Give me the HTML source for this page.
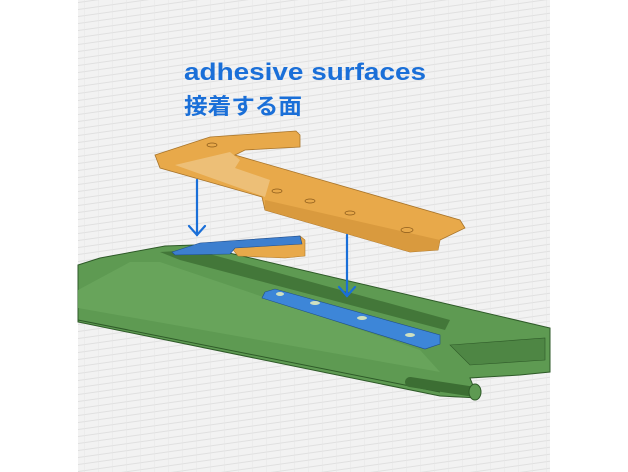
<!DOCTYPE html>
<html><head><meta charset="utf-8"><style>
html,body{margin:0;padding:0;background:#fff;width:628px;height:472px;overflow:hidden}
</style></head><body>
<svg width="628" height="472" viewBox="0 0 628 472" xmlns="http://www.w3.org/2000/svg">
<defs>
<pattern id="g" width="14" height="7" patternUnits="userSpaceOnUse" patternTransform="skewY(-8)">
<rect width="14" height="7" fill="#f2f2f2"/>
<path d="M0 6.5H14" stroke="#dcdcdc" stroke-width="0.8"/>
<path d="M0.5 0V7" stroke="#e6e6e6" stroke-width="0.5"/>
</pattern>
</defs>
<rect x="78" y="0" width="472" height="472" fill="url(#g)"/>
<!-- green plate -->
<polygon points="78,265 100,258 165,246 195,245 550,328 550,372 520,375 470,378 478,398 440,396 78,322" fill="#5e9a52" stroke="#2e5a28" stroke-width="1"/>
<polygon points="78,290 130,262 160,262 420,350 440,372 78,308" fill="#6aa65e" opacity="0.8"/>
<polygon points="160,252 195,250 450,320 445,330 180,260" fill="#3c6e33" opacity="0.8"/>
<polygon points="450,345 545,338 545,360 470,365" fill="#4e8644" stroke="#2e5a28" stroke-width="0.6"/>
<path d="M78,320 L440,392" stroke="#2e5a28" stroke-width="1"/>
<path d="M410,382 L475,392" stroke="#3c6e33" stroke-width="10" stroke-linecap="round"/>
<ellipse cx="475" cy="392" rx="6" ry="8" fill="#5e9a52" stroke="#2e5a28"/>
<!-- small orange under blue -->
<polygon points="230,246 300,236 305,240 305,256 285,258 238,256" fill="#e8a94a" stroke="#b07a2a" stroke-width="0.6"/>
<!-- blue pieces -->
<polygon points="172,252 200,243 300,236 302,244 235,248 230,254 175,255" fill="#3d7fcf" stroke="#1f4d8c" stroke-width="0.6"/>
<polygon points="265,292 275,289 440,335 440,344 425,349 262,298" fill="#3d86d8" stroke="#1f4d8c" stroke-width="0.6"/>
<g fill="#cfe0c0"><ellipse cx="280" cy="294" rx="4" ry="2"/><ellipse cx="315" cy="303" rx="5" ry="2"/><ellipse cx="362" cy="318" rx="5" ry="2"/><ellipse cx="410" cy="335" rx="5" ry="2"/></g>
<!-- orange part -->
<polygon points="155,155 210,137 296,131 300,135 300,147 245,150 235,155 460,220 465,228 440,240 438,250 410,252 265,210 262,197 160,168" fill="#e8a94a" stroke="#a8742a" stroke-width="0.8"/>
<polygon points="175,165 230,152 240,160 235,168 270,180 265,197" fill="#f0c98a" opacity="0.7"/>
<polygon points="265,200 440,240 438,250 410,252 265,210" fill="#d99a3e"/>
<g fill="none" stroke="#8a5a1a" stroke-width="0.7"><ellipse cx="212" cy="145" rx="5" ry="2"/><ellipse cx="277" cy="191" rx="5" ry="2"/><ellipse cx="310" cy="201" rx="5" ry="2"/><ellipse cx="350" cy="213" rx="5" ry="2"/><ellipse cx="407" cy="230" rx="6" ry="2.5"/></g>
<!-- arrows -->
<g stroke="#1a6fd8" stroke-width="2.2" fill="none" stroke-linecap="round">
<line x1="197" y1="180" x2="197" y2="235"/>
<path d="M189 226 L197 235 L205 226"/>
<line x1="347" y1="235" x2="347" y2="296"/>
<path d="M339 287 L347 296 L355 287"/>
</g>
<!-- text -->
<text x="184" y="80" font-family="Liberation Sans, sans-serif" font-weight="bold" font-size="24" fill="#1a6fd8" textLength="242" lengthAdjust="spacingAndGlyphs">adhesive surfaces</text>
<text x="184" y="114" font-family="Liberation Sans, 'Noto Sans CJK JP', sans-serif" font-weight="bold" font-size="22" fill="#1a6fd8" textLength="118" lengthAdjust="spacingAndGlyphs">接着する面</text>
</svg>
</body></html>
